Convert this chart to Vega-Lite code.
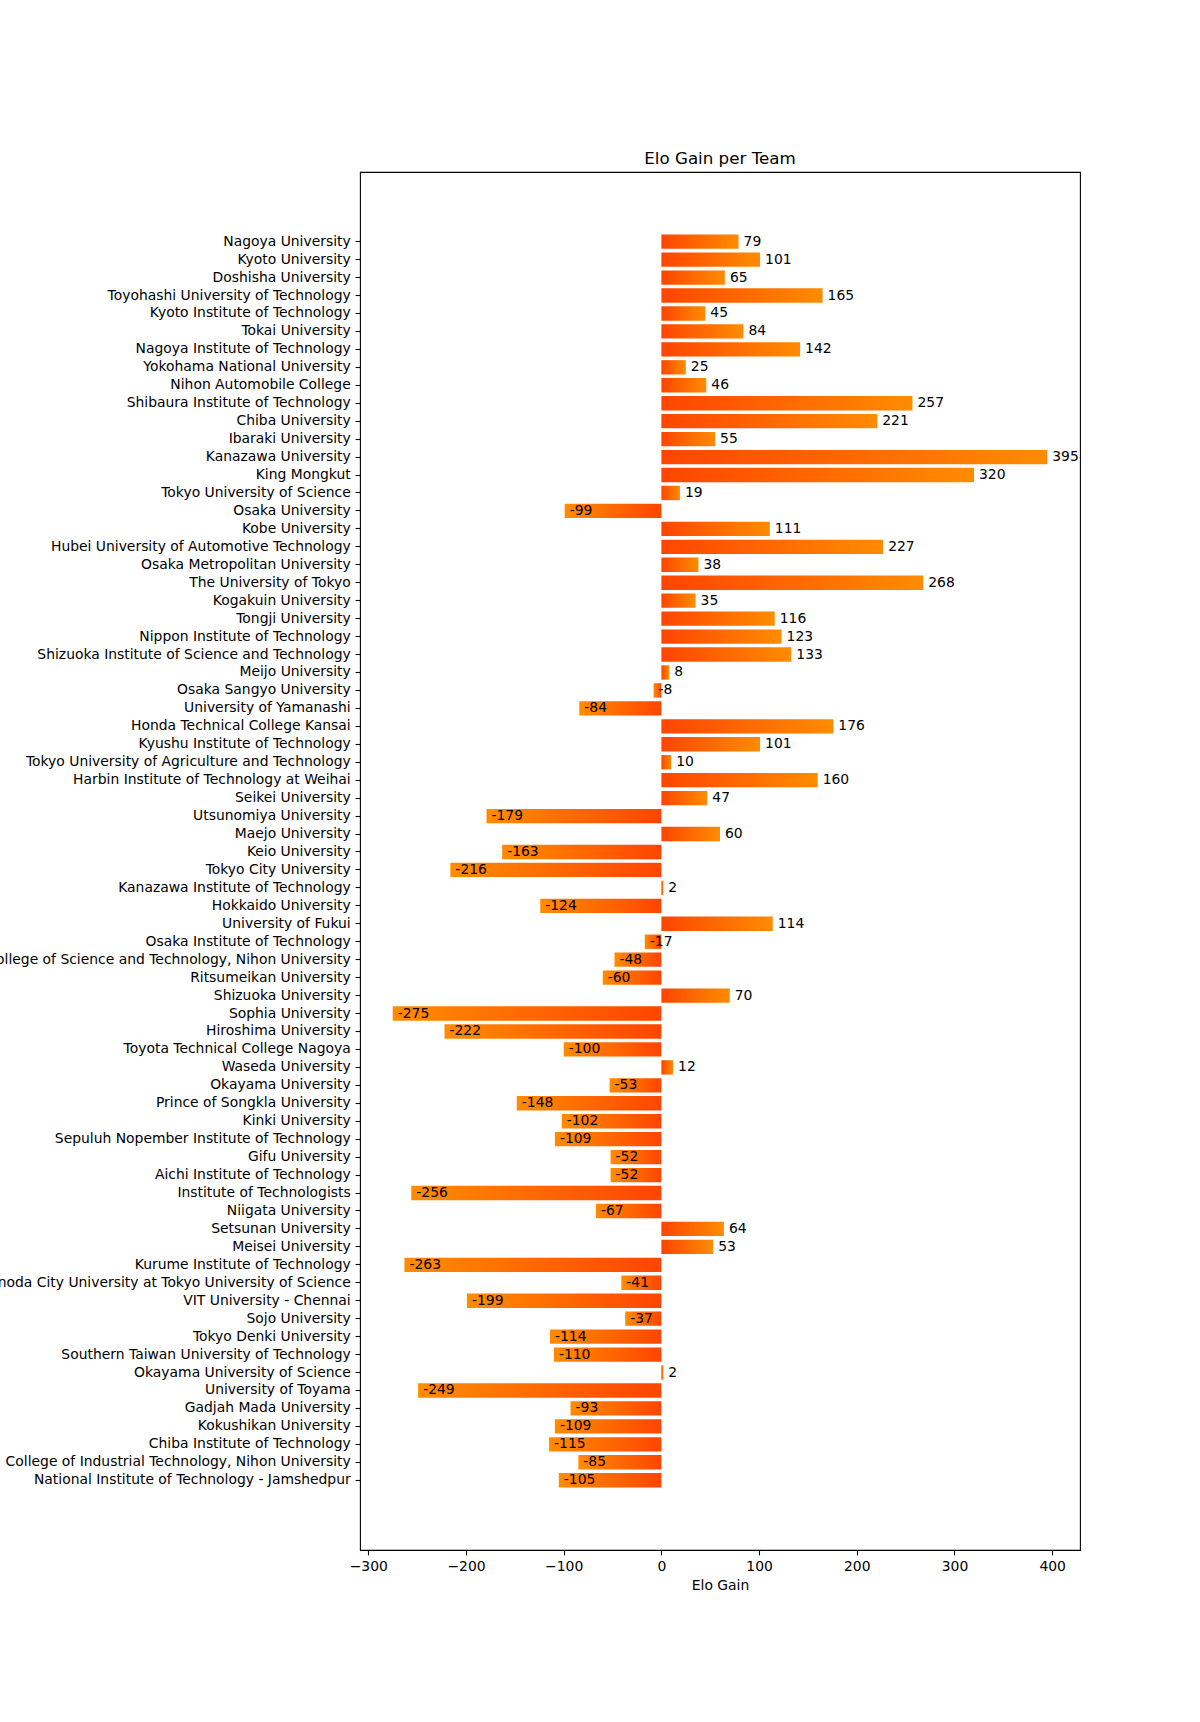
{
  "$schema": "https://vega.github.io/schema/vega-lite/v6.json",
  "autosize": {"type": "none"},
  "padding": {"left": 360, "top": 172, "right": 120, "bottom": 172},
  "width": 720,
  "height": 1378,
  "background": "white",
  "title": {"text": "Elo Gain per Team", "font": "DejaVu Sans", "fontSize": 16.7, "fontWeight": "normal", "color": "black", "offset": 4.5, "anchor": "middle"},
  "config": {"view": {"stroke": "black", "strokeWidth": 1.1}},
  "data": {"values": [
    {"team": "Nagoya University", "gain": 79},
    {"team": "Kyoto University", "gain": 101},
    {"team": "Doshisha University", "gain": 65},
    {"team": "Toyohashi University of Technology", "gain": 165},
    {"team": "Kyoto Institute of Technology", "gain": 45},
    {"team": "Tokai University", "gain": 84},
    {"team": "Nagoya Institute of Technology", "gain": 142},
    {"team": "Yokohama National University", "gain": 25},
    {"team": "Nihon Automobile College", "gain": 46},
    {"team": "Shibaura Institute of Technology", "gain": 257},
    {"team": "Chiba University", "gain": 221},
    {"team": "Ibaraki University", "gain": 55},
    {"team": "Kanazawa University", "gain": 395},
    {"team": "King Mongkut", "gain": 320},
    {"team": "Tokyo University of Science", "gain": 19},
    {"team": "Osaka University", "gain": -99},
    {"team": "Kobe University", "gain": 111},
    {"team": "Hubei University of Automotive Technology", "gain": 227},
    {"team": "Osaka Metropolitan University", "gain": 38},
    {"team": "The University of Tokyo", "gain": 268},
    {"team": "Kogakuin University", "gain": 35},
    {"team": "Tongji University", "gain": 116},
    {"team": "Nippon Institute of Technology", "gain": 123},
    {"team": "Shizuoka Institute of Science and Technology", "gain": 133},
    {"team": "Meijo University", "gain": 8},
    {"team": "Osaka Sangyo University", "gain": -8},
    {"team": "University of Yamanashi", "gain": -84},
    {"team": "Honda Technical College Kansai", "gain": 176},
    {"team": "Kyushu Institute of Technology", "gain": 101},
    {"team": "Tokyo University of Agriculture and Technology", "gain": 10},
    {"team": "Harbin Institute of Technology at Weihai", "gain": 160},
    {"team": "Seikei University", "gain": 47},
    {"team": "Utsunomiya University", "gain": -179},
    {"team": "Maejo University", "gain": 60},
    {"team": "Keio University", "gain": -163},
    {"team": "Tokyo City University", "gain": -216},
    {"team": "Kanazawa Institute of Technology", "gain": 2},
    {"team": "Hokkaido University", "gain": -124},
    {"team": "University of Fukui", "gain": 114},
    {"team": "Osaka Institute of Technology", "gain": -17},
    {"team": "College of Science and Technology, Nihon University", "gain": -48},
    {"team": "Ritsumeikan University", "gain": -60},
    {"team": "Shizuoka University", "gain": 70},
    {"team": "Sophia University", "gain": -275},
    {"team": "Hiroshima University", "gain": -222},
    {"team": "Toyota Technical College Nagoya", "gain": -100},
    {"team": "Waseda University", "gain": 12},
    {"team": "Okayama University", "gain": -53},
    {"team": "Prince of Songkla University", "gain": -148},
    {"team": "Kinki University", "gain": -102},
    {"team": "Sepuluh Nopember Institute of Technology", "gain": -109},
    {"team": "Gifu University", "gain": -52},
    {"team": "Aichi Institute of Technology", "gain": -52},
    {"team": "Institute of Technologists", "gain": -256},
    {"team": "Niigata University", "gain": -67},
    {"team": "Setsunan University", "gain": 64},
    {"team": "Meisei University", "gain": 53},
    {"team": "Kurume Institute of Technology", "gain": -263},
    {"team": "Sanyo-Onoda City University at Tokyo University of Science", "gain": -41},
    {"team": "VIT University - Chennai", "gain": -199},
    {"team": "Sojo University", "gain": -37},
    {"team": "Tokyo Denki University", "gain": -114},
    {"team": "Southern Taiwan University of Technology", "gain": -110},
    {"team": "Okayama University of Science", "gain": 2},
    {"team": "University of Toyama", "gain": -249},
    {"team": "Gadjah Mada University", "gain": -93},
    {"team": "Kokushikan University", "gain": -109},
    {"team": "Chiba Institute of Technology", "gain": -115},
    {"team": "College of Industrial Technology, Nihon University", "gain": -85},
    {"team": "National Institute of Technology - Jamshedpur", "gain": -105}
  ]},
  "encoding": {
    "y": {
      "field": "team", "type": "nominal", "sort": null,
      "scale": {"range": [62.5, 1315.4], "paddingInner": 0.2, "paddingOuter": 0},
      "axis": {"title": null, "domain": false, "grid": false, "labelFont": "DejaVu Sans", "labelFontSize": 13.9, "labelColor": "black", "tickColor": "black", "tickSize": 4.9, "tickWidth": 1.1, "labelPadding": 4.9, "labelLimit": 1000}
    },
    "x": {
      "field": "gain", "type": "quantitative",
      "scale": {"domain": [-308.5, 428.5], "nice": false, "zero": false},
      "axis": {"title": "Elo Gain", "values": [-300, -200, -100, 0, 100, 200, 300, 400], "domain": false, "grid": false, "labelFont": "DejaVu Sans", "labelFontSize": 13.9, "labelColor": "black", "tickColor": "black", "tickSize": 4.9, "tickWidth": 1.1, "labelPadding": 4.9, "labelFlush": false, "titleFont": "DejaVu Sans", "titleFontSize": 13.9, "titleFontWeight": "normal", "titleColor": "black", "titlePadding": 5}
    }
  },
  "layer": [
    {
      "mark": {"type": "bar"},
      "encoding": {
        "fill": {
          "condition": {"test": "datum.gain < 0", "value": {"gradient": "linear", "x1": 1, "x2": 0, "y1": 0, "y2": 0, "stops": [{"offset": 0, "color": "#ff4500"}, {"offset": 1, "color": "#ff8c00"}]}},
          "value": {"gradient": "linear", "x1": 0, "x2": 1, "y1": 0, "y2": 0, "stops": [{"offset": 0, "color": "#ff4500"}, {"offset": 1, "color": "#ff8c00"}]}
        }
      }
    },
    {
      "mark": {"type": "text", "align": "left", "baseline": "middle", "dx": 5, "font": "DejaVu Sans", "fontSize": 13.9, "color": "black"},
      "encoding": {"text": {"field": "gain", "type": "nominal"}}
    }
  ]
}
